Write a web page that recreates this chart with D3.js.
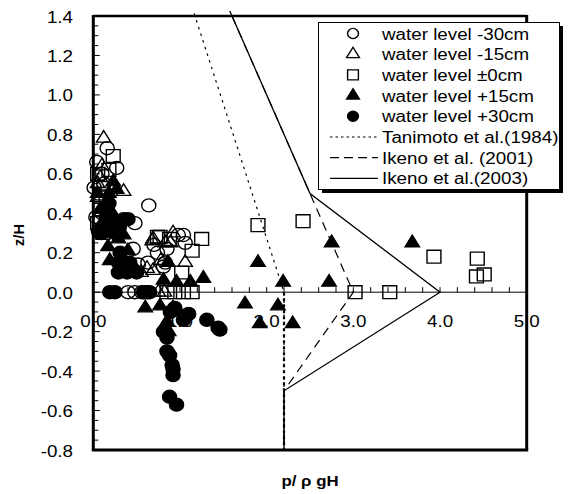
<!DOCTYPE html>
<html><head><meta charset="utf-8">
<script src="https://cdn.jsdelivr.net/npm/d3@7"></script>
<style>
body{margin:0;background:#fff}
text{font-family:Arial,"Liberation Sans",sans-serif;fill:#000}
</style>
</head><body>
<svg id="chart" width="568" height="494"></svg>
<script>
// Measured pressure distribution p/(rho g H) against relative height z/H
const seriesLabels = ["water level -30cm","water level -15cm","water level \u00b10cm","water level +15cm","water level +30cm"];
const lineLabels = ["Tanimoto et al.(1984)","Ikeno et al. (2001)","Ikeno et al.(2003)"];

const levelMinus30 = [[0.16,0.73],[0.04,0.66],[0.27,0.63],[0.01,0.53],[0.64,0.44],[0.48,0.35],[0.06,0.31],[0.10,0.40],
  [0.46,0.22],[0.74,0.20],[0.83,0.15],[0.63,0.15],[1.04,0.29],[1.06,0.25],[0.52,0.14],[0.85,0.22],[0.40,0.0],[0.48,0.0],
  [0.56,0.0],[0.63,0.0],[0.08,0.30],[0.98,0.29],[0.81,0.13],[0.70,0.24],[0.12,0.55],[0.03,0.38],[0.10,0.60]];
const levelMinus15 = [[0.12,0.78],[0.35,0.51],[0.10,0.64],[0.14,0.31],[0.92,0.30],[0.68,0.26],[0.83,0.25],[1.06,0.15],
  [0.13,0.30],[0.69,0.27],[0.89,0.25],[0.62,0.12],[0.69,0.11],[0.08,0.58],[0.05,0.48],[0.20,0.40],[0.75,0.0],[0.82,0.0],
  [0.55,0.10],[0.78,0.16],[0.05,0.55],[0.15,0.36]];
const levelZero = [[0.23,0.69],[1.90,0.34],[1.25,0.27],[1.14,0.21],[0.77,0.28],[1.02,0.10],[1.04,0.0],[1.14,0.0],[0.94,0.0],
  [2.42,0.36],[3.93,0.18],[3.02,0.0],[3.42,0.0],[4.43,0.17],[4.42,0.08],[4.51,0.09],[0.74,0.28],[0.88,0.27],[0.11,0.30],
  [0.08,0.42],[0.10,0.50],[0.18,0.62],[0.85,0.0],[0.05,0.35],[0.15,0.48],[0.05,0.60]];
const levelPlus15 = [[2.75,0.25],[3.68,0.25],[2.19,0.05],[2.72,0.05],[2.13,-0.07],[1.90,0.15],[1.27,0.07],[1.75,-0.06],
  [0.60,-0.08],[0.77,-0.07],[0.92,-0.08],[0.86,0.15],[0.96,0.05],[1.12,0.05],[0.85,-0.15],[1.92,-0.16],[2.30,-0.16],
  [0.17,0.23],[0.29,0.27],[0.19,0.16],[0.40,0.21],[0.81,0.06],[0.23,0.56],[0.27,0.52],[0.35,0.29],[0.94,-0.10],
  [0.87,-0.20],[0.15,0.45],[0.22,0.40],[0.10,0.35],[0.25,0.35],[0.05,0.50],[0.18,0.50],[0.08,0.42],[0.20,0.30]];
const levelPlus30 = [[0.19,0.0],[0.25,0.0],[0.60,0.0],[0.65,0.0],[0.29,0.15],[0.29,0.10],[0.42,0.15],[0.31,0.20],
  [0.39,0.10],[0.40,0.37],[0.35,0.37],[0.40,0.14],[0.50,0.10],[0.58,0.0],[1.10,-0.11],[1.04,-0.14],[1.31,-0.14],
  [1.44,-0.18],[1.46,-0.19],[0.81,-0.20],[0.85,-0.23],[0.85,-0.30],[0.88,-0.32],[0.91,-0.37],[0.92,-0.39],[0.92,-0.42],
  [0.88,-0.53],[0.96,-0.57],[0.89,-0.10],[0.94,-0.08],[1.06,-0.12],[0.20,0.33],[0.25,0.30],[0.15,0.38],[0.30,0.33],
  [0.45,0.12],[0.10,0.30],[0.18,0.45]];

// Design pressure profiles
const tanimoto1984 = [[0,3.0],[2.2,0],[2.2,-0.8]];
const ikeno2001 = [[0,3.0],[2.5,0.5],[3.0,0],[2.2,-0.5],[2.2,-0.8]];
const ikeno2003 = [[0,3.0],[2.5,0.5],[4.0,0],[2.2,-0.5],[2.2,-0.8]];

const xTickLabels = ["0.0","1.0","2.0","3.0","4.0","5.0"];
const yTickLabels = ["-0.8","-0.6","-0.4","-0.2","0.0","0.2","0.4","0.6","0.8","1.0","1.2","1.4"];

const svg = d3.select("#chart");
const x = d3.scaleLinear().domain([0,5]).range([93.3,526.7]);
const y = d3.scaleLinear().domain([-0.8,1.4]).range([450,16]);
const SX = 1.16; // horizontal text stretch
const FS = 16.2;

function stretchedText(g, tx, ty, str, size, anchor, weight){
  return g.append("text")
    .attr("transform",`translate(${tx},${ty}) scale(${SX},1)`)
    .attr("text-anchor",anchor).attr("font-size",size)
    .attr("font-weight",weight||"normal").text(str);
}

// zero line with upward ticks
svg.append("line").attr("x1",x(0)).attr("x2",x(5)).attr("y1",y(0)).attr("y2",y(0))
  .attr("stroke","#000").attr("stroke-width",1);
svg.append("g").selectAll("line").data(d3.range(0,5.001,0.2)).join("line")
  .attr("x1",d=>x(d)).attr("x2",d=>x(d)).attr("y1",y(0)).attr("y2",y(0)-5)
  .attr("stroke","#000").attr("stroke-width",1);

// y ticks (inside)
svg.append("g").selectAll("line").data(d3.range(-0.8,1.4001,0.05)).join("line")
  .attr("x1",x(0)).attr("y1",d=>y(d)).attr("y2",d=>y(d))
  .attr("x2",(d,i)=> i%4===0 ? x(0)+6.5 : x(0)+5)
  .attr("stroke","#000").attr("stroke-width",1);

// tick labels
const tl = svg.append("g");
yTickLabels.forEach(s=>{
  stretchedText(tl, 73, y(+s)+6.5, s, FS, "end");
});
xTickLabels.forEach(s=>{
  stretchedText(tl, x(+s), y(0)+34.5, s, FS, "middle");
});

// axis titles
svg.append("text").attr("transform",`translate(24,235) rotate(-90)`)
  .attr("text-anchor","middle").attr("font-size",14.5).attr("font-weight","bold").text("z/H");
stretchedText(svg, 310, 486, "p/ \u03c1 gH", 14.5, "middle", "bold");

// design profiles
svg.append("clipPath").attr("id","clip").append("rect")
  .attr("x",x(0)).attr("y",11).attr("width",x(5)-x(0)).attr("height",y(-0.8)-11);
const line = d3.line().x(d=>x(d[0])).y(d=>y(d[1]));
const curves = svg.append("g").attr("clip-path","url(#clip)");
curves.append("path").attr("d",line(tanimoto1984)).attr("fill","none").attr("stroke","#000")
  .attr("stroke-width",1.2).attr("stroke-dasharray","2.5,4.5");
curves.append("path").attr("d",line(tanimoto1984.slice(1))).attr("fill","none").attr("stroke","#000")
  .attr("stroke-width",2.2).attr("stroke-dasharray","3,3");
curves.append("path").attr("d",line(ikeno2001)).attr("fill","none").attr("stroke","#000")
  .attr("stroke-width",1.2).attr("stroke-dasharray","9,6");
curves.append("path").attr("d",line(ikeno2003)).attr("fill","none").attr("stroke","#000")
  .attr("stroke-width",1.3);

// markers
const styles = [
  {data:levelMinus30, type:d3.symbolCircle, size:135, fill:"none"},
  {data:levelMinus15, type:d3.symbolTriangle, size:78, fill:"none"},
  {data:levelZero, type:d3.symbolSquare, size:165, fill:"none"},
  {data:levelPlus15, type:d3.symbolTriangle, size:78, fill:"#000"},
  {data:levelPlus30, type:d3.symbolCircle, size:135, fill:"#000"}
];
styles.forEach(st=>{
  svg.append("g").selectAll("path").data(st.data).join("path")
    .attr("d",d3.symbol().type(st.type).size(st.size)())
    .attr("transform",d=>`translate(${x(d[0])},${y(d[1])}) scale(1.08,1)`)
    .attr("fill",st.fill).attr("stroke","#000").attr("stroke-width",1.3);
});

// frame
const frame = svg.append("g").attr("stroke","#000").attr("fill","none");
frame.append("line").attr("x1",x(0)).attr("x2",x(5)).attr("y1",y(1.4)).attr("y2",y(1.4)).attr("stroke-width",2.5);
frame.append("line").attr("x1",x(0)-1.5).attr("x2",x(5)+1.5).attr("y1",y(-0.8)).attr("y2",y(-0.8)).attr("stroke-width",3);
frame.append("line").attr("x1",x(0)).attr("x2",x(0)).attr("y1",y(1.4)-1).attr("y2",y(-0.8)).attr("stroke-width",3);
frame.append("line").attr("x1",x(5)).attr("x2",x(5)).attr("y1",y(1.4)-1).attr("y2",y(-0.8)).attr("stroke-width",3);

// legend
const lg = svg.append("g");
lg.append("rect").attr("x",322).attr("y",26).attr("width",241).attr("height",167).attr("fill","#000");
lg.append("rect").attr("x",318.5).attr("y",22.5).attr("width",241).attr("height",167)
  .attr("fill","#fff").attr("stroke","#000").attr("stroke-width",1);
const rowY = i => 33.5 + i*20.7;
const legendSizes = [80,62,100,62,80];
styles.forEach((st,i)=>{
  lg.append("path").attr("d",d3.symbol().type(st.type).size(legendSizes[i])())
    .attr("transform",`translate(353,${rowY(i)}) scale(1.08,1)`)
    .attr("fill",st.fill).attr("stroke","#000").attr("stroke-width",1.3);
  stretchedText(lg, 382, rowY(i)+6, seriesLabels[i], FS, "start");
});
const dashes = ["2.5,3","9,5",null];
lineLabels.forEach((s,j)=>{
  const i = j+5;
  const l = lg.append("line").attr("x1",330).attr("x2",378).attr("y1",rowY(i)).attr("y2",rowY(i))
    .attr("stroke","#000").attr("stroke-width",1.2);
  if(dashes[j]) l.attr("stroke-dasharray",dashes[j]);
  stretchedText(lg, 382, rowY(i)+6, s, FS, "start");
});
</script>
</body></html>
